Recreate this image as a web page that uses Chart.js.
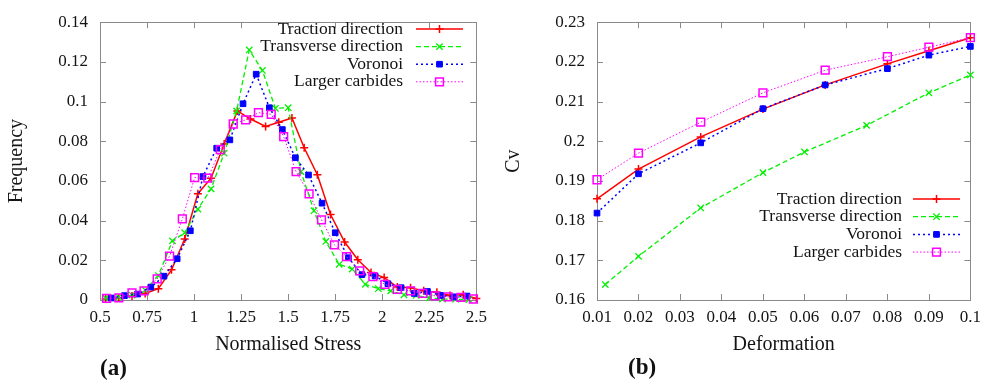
<!DOCTYPE html>
<html>
<head>
<meta charset="utf-8">
<script src="https://cdn.jsdelivr.net/npm/chart.js@4.4.1/dist/chart.umd.min.js"></script>
<style>
body{margin:0;background:#fff;width:988px;height:383px;overflow:hidden;position:relative;font-family:"Liberation Serif",serif}
.panel{position:absolute;top:0;width:494px;height:383px}
.tag{position:absolute;font-weight:bold;font-size:23px;color:#111;line-height:26px}
</style>
</head>
<body>
<div class="panel" style="left:0"><canvas id="chartStress" width="494" height="383"></canvas></div>
<div class="panel" style="left:494px"><canvas id="chartCv" width="494" height="383"></canvas></div>
<div class="tag" style="left:100px;top:355px">(a)</div>
<div class="tag" style="left:628px;top:354px">(b)</div>
<script>
// (a) frequency vs normalised stress
let seriesNames = ['Traction direction', 'Transverse direction', 'Voronoi', 'Larger carbides'];

let redStress = [0.53,0.60,0.67,0.74,0.81,0.88,0.95,1.02,1.09,1.16,1.23,1.30,1.38,1.45,1.52,1.585,1.655,1.725,1.80,1.87,1.94,2.01,2.08,2.15,2.22,2.29,2.36,2.43,2.50];
let redFreq = [0.0005,0.001,0.002,0.0033,0.0057,0.0152,0.0307,0.0536,0.0614,0.0786,0.0953,0.0912,0.0875,0.0896,0.0917,0.0767,0.0631,0.0431,0.0292,0.0203,0.0139,0.0113,0.0065,0.0062,0.0046,0.0039,0.0023,0.0026,0.0008];

let greenStress = [0.53,0.60,0.67,0.74,0.81,0.885,0.95,1.02,1.09,1.16,1.226,1.293,1.363,1.432,1.50,1.568,1.637,1.70,1.771,1.84,1.91,1.979,2.045,2.115,2.18,2.25,2.32,2.39,2.46];
let greenFreq = [0.001,0.0015,0.0025,0.005,0.0123,0.0298,0.0339,0.0458,0.056,0.074,0.0953,0.126,0.1157,0.0966,0.0969,0.0647,0.045,0.0295,0.018,0.0156,0.0079,0.0057,0.0046,0.0026,0.0023,0.0011,0.0005,0.0004,0.0002];

let blueStress = [0.56,0.63,0.70,0.77,0.84,0.91,0.98,1.047,1.12,1.19,1.26,1.33,1.40,1.469,1.538,1.608,1.68,1.75,1.82,1.892,1.962,2.03,2.10,2.17,2.24,2.31,2.38,2.45];
let blueFreq = [0.001,0.0022,0.003,0.0065,0.012,0.0208,0.0349,0.0622,0.0765,0.0807,0.0989,0.1138,0.0969,0.0859,0.0717,0.063,0.0488,0.0339,0.0213,0.0128,0.0121,0.0082,0.0062,0.0033,0.0043,0.0023,0.0016,0.002];

let pinkStress = [0.535,0.60,0.67,0.734,0.804,0.87,0.9375,1.003,1.073,1.139,1.208,1.274,1.342,1.41,1.476,1.542,1.611,1.677,1.746,1.81,1.88,1.95,2.014,2.08,2.15,2.215,2.28,2.35,2.418,2.484];
let pinkFreq = [0.0008,0.0011,0.0036,0.0046,0.0106,0.0221,0.0409,0.0617,0.0614,0.0758,0.0887,0.0908,0.0944,0.0936,0.0823,0.0647,0.0535,0.0404,0.0278,0.0219,0.0147,0.0118,0.0079,0.0053,0.0046,0.0033,0.0021,0.0016,0.0013,0.0005];

let stressTicks = [0.5,0.75,1,1.25,1.5,1.75,2,2.25,2.5];
let freqTicks = [0,0.02,0.04,0.06,0.08,0.1,0.12,0.14];

// (b) Cv vs deformation
let deform = [0.01,0.02,0.035,0.05,0.065,0.08,0.09,0.1];
let deformTransverse = [0.012,0.02,0.035,0.05,0.06,0.075,0.09,0.1];
let cvTraction = [0.1855,0.1930,0.2011,0.2081,0.2142,0.2195,0.2228,0.2261];
let cvTransverse = [0.1639,0.1710,0.1832,0.1921,0.1973,0.2040,0.2122,0.2167];
let cvVoronoi = [0.1819,0.1918,0.1996,0.2082,0.2142,0.2183,0.2217,0.2239];
let cvCarbides = [0.1903,0.1970,0.2048,0.2122,0.2179,0.2213,0.2237,0.2261];

let deformTicks = [0.01,0.02,0.03,0.04,0.05,0.06,0.07,0.08,0.09,0.1];
let cvTicks = [0.16,0.17,0.18,0.19,0.2,0.21,0.22,0.23];

const serif = '"Liberation Serif", "Times New Roman", serif';
const ink = '#141414';
const frameColor = '#8a8a8a';

function pairs(xs, ys){
    return xs.map((x, i) => ({x: x, y: ys[i]}));
}

// gnuplot-like line styles, one per series
let styles = [
    {borderColor:'#ff0000', borderWidth:1.5, borderDash:[], pointStyle:'cross', pointRadius:4, pointBorderWidth:1.5, pointBackgroundColor:'#ff0000'},
    {borderColor:'#00f000', borderWidth:1.3, borderDash:[5,3], pointStyle:'crossRot', pointRadius:4.5, pointBorderWidth:1.3, pointBackgroundColor:'#00f000'},
    {borderColor:'#0000ff', borderWidth:1.5, borderDash:[2,3], pointStyle:'rect', pointRadius:4, pointBorderWidth:1, pointBackgroundColor:'#0000ff'},
    {borderColor:'#ff00ff', borderWidth:1, borderDash:[1.5,2], pointStyle:'rect', pointRadius:5.5, pointBorderWidth:1.5, pointBackgroundColor:'rgba(0,0,0,0)'}
];

function makeDatasets(list){
    return list.map((pts, i) => Object.assign({
        label: seriesNames[i],
        data: pts,
        fill: false,
        tension: 0,
        clip: false,
        order: 4 - i,
        pointBorderColor: styles[i].borderColor,
        pointHoverRadius: styles[i].pointRadius
    }, styles[i]));
}

// inward ticks on all four sides plus the box
const frameTicks = {
    id: 'frameTicks',
    beforeDatasetsDraw(chart){
        const {ctx, chartArea: a, scales} = chart;
        const x = scales.x, y = scales.y;
        ctx.save();
        ctx.strokeStyle = frameColor;
        ctx.lineWidth = 1;
        ctx.beginPath();
        x.ticks.forEach(t => {
            const px = Math.round(x.getPixelForValue(t.value)) + 0.5;
            ctx.moveTo(px, a.bottom); ctx.lineTo(px, a.bottom - 6);
            ctx.moveTo(px, a.top); ctx.lineTo(px, a.top + 6);
        });
        y.ticks.forEach(t => {
            const py = Math.round(y.getPixelForValue(t.value)) + 0.5;
            ctx.moveTo(a.left, py); ctx.lineTo(a.left + 6, py);
            ctx.moveTo(a.right, py); ctx.lineTo(a.right - 6, py);
        });
        ctx.stroke();
        ctx.strokeRect(Math.round(a.left) + 0.5, Math.round(a.top) + 0.5, Math.round(a.right - a.left), Math.round(a.bottom - a.top));
        ctx.restore();
    }
};

// key with right-aligned text and the sample line to its right
const keyBox = {
    id: 'keyBox',
    afterDraw(chart, args, o){
        const ctx = chart.ctx;
        ctx.save();
        ctx.font = '17.5px ' + serif;
        ctx.textAlign = 'right';
        ctx.textBaseline = 'middle';
        chart.data.datasets.forEach((ds, i) => {
            let yy = o.top + i * o.step;
            ctx.fillStyle = ink;
            ctx.fillText(ds.label, o.right, yy);
            ctx.strokeStyle = ds.borderColor;
            ctx.lineWidth = ds.borderWidth;
            ctx.setLineDash(ds.borderDash);
            ctx.beginPath();
            ctx.moveTo(o.x1, yy);
            ctx.lineTo(o.x2, yy);
            ctx.stroke();
            ctx.setLineDash([]);
            ctx.fillStyle = ds.pointBackgroundColor;
            ctx.lineWidth = ds.pointBorderWidth;
            Chart.helpers.drawPoint(ctx, {pointStyle: ds.pointStyle, radius: ds.pointRadius, borderWidth: ds.pointBorderWidth, rotation: 0}, (o.x1 + o.x2) / 2, yy);
        });
        ctx.restore();
    }
};

function axis(min, max, ticks, title, isX, size, titlePad){
    return {
        type: 'linear',
        min: min,
        max: max,
        afterBuildTicks: s => { s.ticks = ticks.map(v => ({value: v})); },
        afterFit: s => { if(isX) s.height = size; else s.width = size; },
        grid: {display: false, drawTicks: false},
        border: {display: false},
        ticks: {
            color: ink,
            font: {family: serif, size: 17},
            padding: isX ? 7 : 12,
            maxRotation: 0,
            autoSkip: false,
            callback: v => String(v)
        },
        title: {
            display: true,
            text: title,
            color: ink,
            font: {family: serif, size: 20},
            padding: isX ? {top: 0, bottom: 26} : {top: titlePad, bottom: 0}
        }
    };
}

function makeChart(id, datasets, xAxis, yAxis, key, pad){
    return new Chart(document.getElementById(id), {
        type: 'line',
        data: {datasets: datasets},
        options: {
            responsive: false,
            animation: false,
            devicePixelRatio: 1,
            parsing: false,
            layout: {padding: pad},
            plugins: {legend: {display: false}, tooltip: {enabled: false}, keyBox: key},
            scales: {x: xAxis, y: yAxis}
        },
        plugins: [frameTicks, keyBox]
    });
}

window.addEventListener('DOMContentLoaded', () => {
    makeChart('chartStress',
        makeDatasets([pairs(redStress, redFreq), pairs(greenStress, greenFreq), pairs(blueStress, blueFreq), pairs(pinkStress, pinkFreq)]),
        axis(0.5, 2.5, stressTicks, 'Normalised Stress', true, 83),
        axis(0, 0.14, freqTicks, 'Frequency', false, 100, 5),
        {right: 403, top: 29, step: 17.6, x1: 416, x2: 463},
        {left: 0, right: 10, top: 15, bottom: 0});

    makeChart('chartCv',
        makeDatasets([pairs(deform, cvTraction), pairs(deformTransverse, cvTransverse), pairs(deform, cvVoronoi), pairs(deform, cvCarbides)]),
        axis(0.01, 0.1, deformTicks, 'Deformation', true, 83),
        axis(0.16, 0.23, cvTicks, 'Cv', false, 103, 8),
        {right: 408, top: 199, step: 17.7, x1: 419, x2: 466},
        {left: 0, right: 11, top: 15, bottom: 0});
});
</script>
</body>
</html>
